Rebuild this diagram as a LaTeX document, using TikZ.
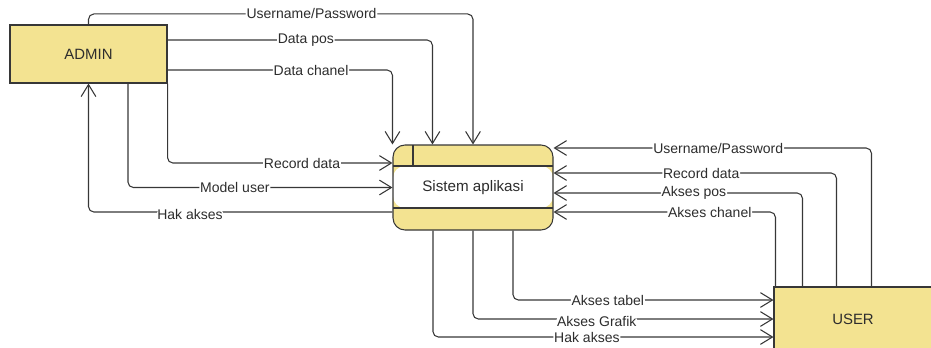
\documentclass[tikz,border=0pt]{standalone}
\usepackage{fontspec}
\setmainfont{Liberation Sans}
\usetikzlibrary{arrows.meta,calc}
\definecolor{boxyellow}{RGB}{243,227,145}
\definecolor{lineclr}{RGB}{55,55,55}
\definecolor{textclr}{RGB}{45,45,45}
\tikzset{
    entity/.style={draw=lineclr, line width=0.8pt, fill=boxyellow, text=textclr,
        font=\fontsize{11.2}{13}\selectfont},
    proses/.style={draw=lineclr, line width=0.8pt, fill=boxyellow, text=textclr,
        rounded corners=9pt, minimum width=120pt, minimum height=63.75pt,
        font=\fontsize{11.4}{13}\selectfont,
        path picture={
            \fill[white] ([yshift=-15.75pt]path picture bounding box.north west)
                rectangle ([yshift=16.5pt]path picture bounding box.south east);
            \draw[lineclr, line width=0.8pt]
                ([yshift=-15.75pt]path picture bounding box.north west)
                -- ([yshift=-15.75pt]path picture bounding box.north east);
            \draw[lineclr, line width=0.8pt]
                ([yshift=16.5pt]path picture bounding box.south west)
                -- ([yshift=16.5pt]path picture bounding box.south east);
            \draw[lineclr, line width=0.8pt]
                ([xshift=15pt]path picture bounding box.north west)
                -- ([xshift=15pt,yshift=-15.75pt]path picture bounding box.north west);
        }},
    flow/.style={draw=lineclr, line width=0.8pt, rounded corners=4pt,
        -{Straight Barb[length=9pt,width=11pt,line width=0.8pt]}},
    flowlab/.style={fill=white, inner sep=0.6pt, text=textclr,
        font=\fontsize{10.5}{12}\selectfont}
}
\begin{document}
\begin{tikzpicture}[x=0.75pt, y=0.75pt]
    \useasboundingbox (0,0) rectangle (931,347);

    \node[entity, minimum width=117.75pt, minimum height=43.5pt] (admin) at (88.5,293) {ADMIN};
    \node[proses] (sistem) at (473,159.5) {Sistem aplikasi};
    \node[entity, minimum width=118.5pt, minimum height=48pt] (user) at (853,28) {USER};

    \draw[flow] (admin.north) -- ++(0,10.5) -| (sistem.north)
        node[flowlab, pos=0.29] (l1) {Username/Password};
    \draw[flow] ($(admin.east)+(0,14)$) -| ($(sistem.north west)+(40,0)$)
        node[flowlab, pos=0.261] (l2) {Data pos};
    \draw[flow] ($(admin.east)+(0,-16)$) -| (sistem.north west)
        node[flowlab, pos=0.319] (l3) {Data chanel};
    \draw[flow] (admin.south east) |- ($(sistem.west)+(0,24.5)$)
        node[flowlab, pos=0.799] (l4) {Record data};
    \draw[flow] ($(admin.south)+(39.5,0)$) |- (sistem.west)
        node[flowlab, pos=0.702] (l5) {Model user};
    \draw[flow] ($(sistem.west)+(0,-24.5)$) -| (admin.south)
        node[flowlab, pos=0.333, yshift=-2pt] (l6) {Hak akses};

    \draw[flow] ($(user.north west)+(98,0)$) |- ($(sistem.east)+(0,39.5)$)
        node[flowlab, pos=0.741] (r1) {Username/Password};
    \draw[flow] ($(user.north west)+(63,0)$) |- ($(sistem.east)+(0,14.5)$)
        node[flowlab, pos=0.739] (r2) {Record data};
    \draw[flow] ($(user.north west)+(29,0)$) |- ($(sistem.east)+(0,-5.5)$)
        node[flowlab, pos=0.718] (r3) {Akses pos};
    \draw[flow] ($(user.north west)+(2,0)$) |- ($(sistem.east)+(0,-24.5)$)
        node[flowlab, pos=0.648] (r4) {Akses chanel};

    \draw[flow] ($(sistem.south)+(40,0)$) |- ($(user.west)+(0,19)$)
        node[flowlab, pos=0.682] (b1) {Akses tabel};
    \draw[flow] (sistem.south) |- (user.west)
        node[flowlab, pos=0.706, yshift=-1.5pt] (b2) {Akses Grafik};
    \draw[flow] ($(sistem.south)+(-40,0)$) |- ($(user.west)+(0,-18)$)
        node[flowlab, pos=0.726] (b3) {Hak akses};
\end{tikzpicture}
\end{document}
